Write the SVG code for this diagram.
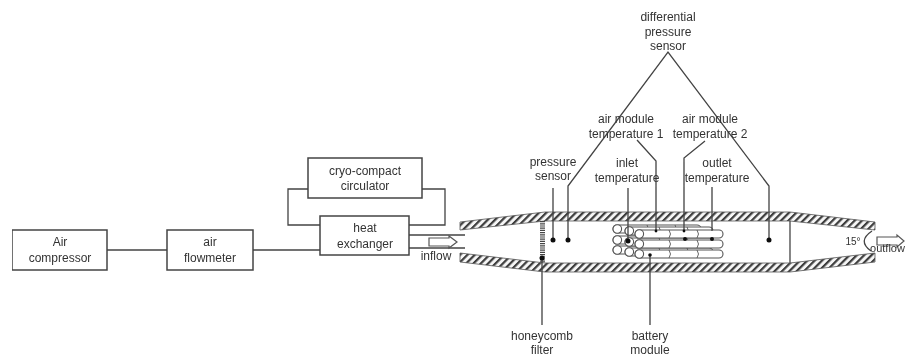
<svg xmlns="http://www.w3.org/2000/svg" width="905" height="358" viewBox="0 0 905 358">
<style>
text{font-family:"Liberation Sans",Arial,sans-serif;font-size:12px;fill:#333;text-anchor:middle}
.b{fill:#fff;stroke:#444;stroke-width:1.5}
.l{fill:none;stroke:#444;stroke-width:1.3}
.w{fill:url(#h);stroke:#555;stroke-width:.8}
.a{fill:#fff;stroke:#555;stroke-width:1.2}
.d{fill:#111}
.t{fill:#fff;stroke:#555;stroke-width:1.1}
</style>
<defs>
<filter id="soft" x="0" y="0" width="100%" height="100%"><feGaussianBlur stdDeviation="0.45"/></filter>
<pattern id="h" width="5.200" height="5.200" patternUnits="userSpaceOnUse" patternTransform="rotate(45)"><rect width="5.200" height="5.200" fill="#f6f6f6"/><rect width="2.200" height="5.200" fill="#3c3c3c"/></pattern>
<g id="tube"><rect x="0" y="-4" width="88" height="8" rx="4" class="t"/><circle cx="4.300" cy="0" r="4.300" class="t"/><path d="M34-4q3 4 0 8M62-4q3 4 0 8" fill="none" stroke="#555" stroke-width=".9"/></g>
</defs>
<g filter="url(#soft)">
<g id="duct">
<path class="w" d="M460 222L545 212H790L875 222V230L790 221H545L460 230Z"/>
<path class="w" d="M460 253L545 263H790L875 253V262L790 272H545L460 262Z"/>
<path class="l" d="M790 221V263"/>
<path stroke="#444" stroke-width="5" stroke-dasharray="1.2 1" fill="none" d="M542.500 221V263"/>
<path class="l" stroke-width=".9" d="M872 231Q857 241 871 251"/>
</g>
<g id="battery-module">
<use href="#tube" x="613" y="229"/><use href="#tube" x="613" y="240"/><use href="#tube" x="613" y="250"/>
<use href="#tube" x="625" y="231"/><use href="#tube" x="625" y="242"/><use href="#tube" x="625" y="252"/>
<use href="#tube" x="635" y="234"/><use href="#tube" x="635" y="244"/><use href="#tube" x="635" y="254"/>
</g>
<g id="connectors">
<path class="l" d="M107 250H167M253 250H320M308 189H288V225H320M422 189H445V225H409M409 235H465M409 248H465"/>
<path class="l" d="M553 188V240M568 240V186L668 52L769 186V240M637 140L656 161V231M705 141L684 158V231M628 188V241M712 187V231M542 258V325M650 255V325"/>
</g>
<g id="air-compressor"><rect class="b" x="12" y="230" width="95" height="40"/><text x="60" y="246">Air</text><text x="60" y="262">compressor</text></g>
<g id="air-flowmeter"><rect class="b" x="167" y="230" width="86" height="40"/><text x="210" y="246">air</text><text x="210" y="262">flowmeter</text></g>
<g id="cryo-compact-circulator"><rect class="b" x="308" y="158" width="114" height="40"/><text x="365" y="175">cryo-compact</text><text x="365" y="190">circulator</text></g>
<g id="heat-exchanger"><rect class="b" x="320" y="216" width="89" height="39"/><text x="365" y="232">heat</text><text x="365" y="248">exchanger</text></g>
<g id="sensors">
<circle class="d" cx="553" cy="240" r="2.500"/><circle class="d" cx="568" cy="240" r="2.500"/><circle class="d" cx="769" cy="240" r="2.500"/><circle class="d" cx="628" cy="241" r="2.500"/><circle class="d" cx="542" cy="258" r="2.500"/>
<circle class="d" cx="656" cy="231" r="1.400"/><circle class="d" cx="684" cy="231" r="1.400"/><circle class="d" cx="685" cy="239" r="2"/><circle class="d" cx="712" cy="239" r="2"/><circle class="d" cx="650" cy="255" r="1.800"/>
</g>
<g id="inflow"><path class="a" d="M429 238H449V236L457 242L449 248V246H429Z"/><text x="436" y="260">inflow</text></g>
<g id="outflow"><path class="a" d="M877 237H897V235L904 241L897 247V245H877Z"/><text x="887.500" y="252" style="font-size:11px">outflow</text></g>
<g id="labels">
<text x="668" y="21">differential</text><text x="668" y="36">pressure</text><text x="668" y="50">sensor</text>
<text x="626" y="123">air module</text><text x="626" y="138">temperature 1</text>
<text x="710" y="123">air module</text><text x="710" y="138">temperature 2</text>
<text x="553" y="166">pressure</text><text x="553" y="180">sensor</text>
<text x="627" y="167">inlet</text><text x="627" y="182">temperature</text>
<text x="717" y="167">outlet</text><text x="717" y="182">temperature</text>
<text x="853" y="245" style="font-size:10px">15°</text>
<text x="542" y="340">honeycomb</text><text x="542" y="354">filter</text>
<text x="650" y="340">battery</text><text x="650" y="354">module</text>
</g>
</g>
</svg>
